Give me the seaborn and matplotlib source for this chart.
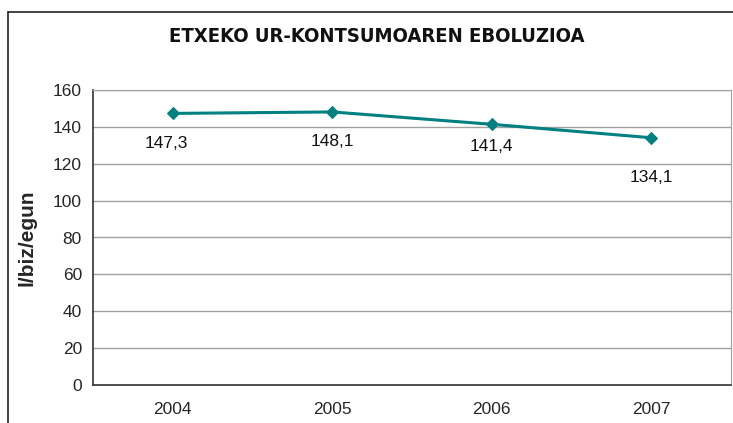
import matplotlib
matplotlib.use("Agg")
import matplotlib.pyplot as plt
from matplotlib.lines import Line2D
import seaborn as sns
import pandas as pd

years = ["2004", "2005", "2006", "2007"]
consumption = [147.3, 148.1, 141.4, 134.1]
value_labels = ["147,3", "148,1", "141,4", "134,1"]

title = "ETXEKO UR-KONTSUMOAREN EBOLUZIOA"
y_title = "l/biz/egun"

df = pd.DataFrame({"year": years, "value": consumption})

sns.set_style("white")
plt.rcParams["font.family"] = ["Liberation Sans", "DejaVu Sans"]

W, H = 733, 423
fig = plt.figure(figsize=(W / 100, H / 100), dpi=100)
ax = fig.add_axes([93 / W, 1 - 385 / H, (731 - 93) / W, (385 - 90) / H])

teal = "#008080"
df["x"] = range(len(df))
sns.lineplot(data=df, x="x", y="value", ax=ax, color=teal, linewidth=2.2,
             marker="D", markersize=6, markeredgecolor=teal)

# data labels below the points (Excel-style placement)
label_offsets = [-30, -30, -22, -40]
for i, (v, lab) in enumerate(zip(consumption, value_labels)):
    ax.annotate(lab, (i, v), xytext=(-6 if i == 0 else 0, label_offsets[i]),
                textcoords="offset pixels", ha="center", va="center",
                fontsize=12.5, color="#111111")

ax.set_xlim(-0.5, len(years) - 0.5)
ax.set_ylim(0, 160)
ax.set_yticks(range(0, 161, 20))
ax.set_xticks(range(len(years)))
ax.set_xticklabels(years)
ax.set_xticks([i - 0.5 for i in range(len(years) + 1)], minor=True)
ax.tick_params(axis="x", which="major", length=0, pad=12, labelsize=12.5)
ax.tick_params(axis="x", which="minor", length=5, direction="out", color="#333333")
ax.tick_params(axis="y", length=5, direction="out", color="#333333", labelsize=12.5, pad=3)
ax.yaxis.grid(True, color="#a0a0a0", linewidth=1)
ax.set_axisbelow(True)
ax.set_xlabel("")
ax.set_ylabel(y_title, fontsize=15, fontweight="bold", labelpad=12)

for side in ["top", "right"]:
    ax.spines[side].set_color("#a0a0a0")
for side in ["left", "bottom"]:
    ax.spines[side].set_color("#333333")
    ax.spines[side].set_linewidth(1.2)

fig.text(377 / W, 1 - 37 / H, title, ha="center", va="center", fontsize=14.5,
         family=["DejaVu Sans"], fontstretch="condensed", fontweight="semibold",
         color="#111111")

# outer chart frame (clipped at right and bottom)
fig.add_artist(Line2D([8 / W, 1], [1 - 12 / H, 1 - 12 / H], color="#222222", linewidth=1.2))
fig.add_artist(Line2D([8 / W, 8 / W], [0, 1 - 12 / H], color="#222222", linewidth=1.2))

fig.savefig("out.png", dpi=100)
